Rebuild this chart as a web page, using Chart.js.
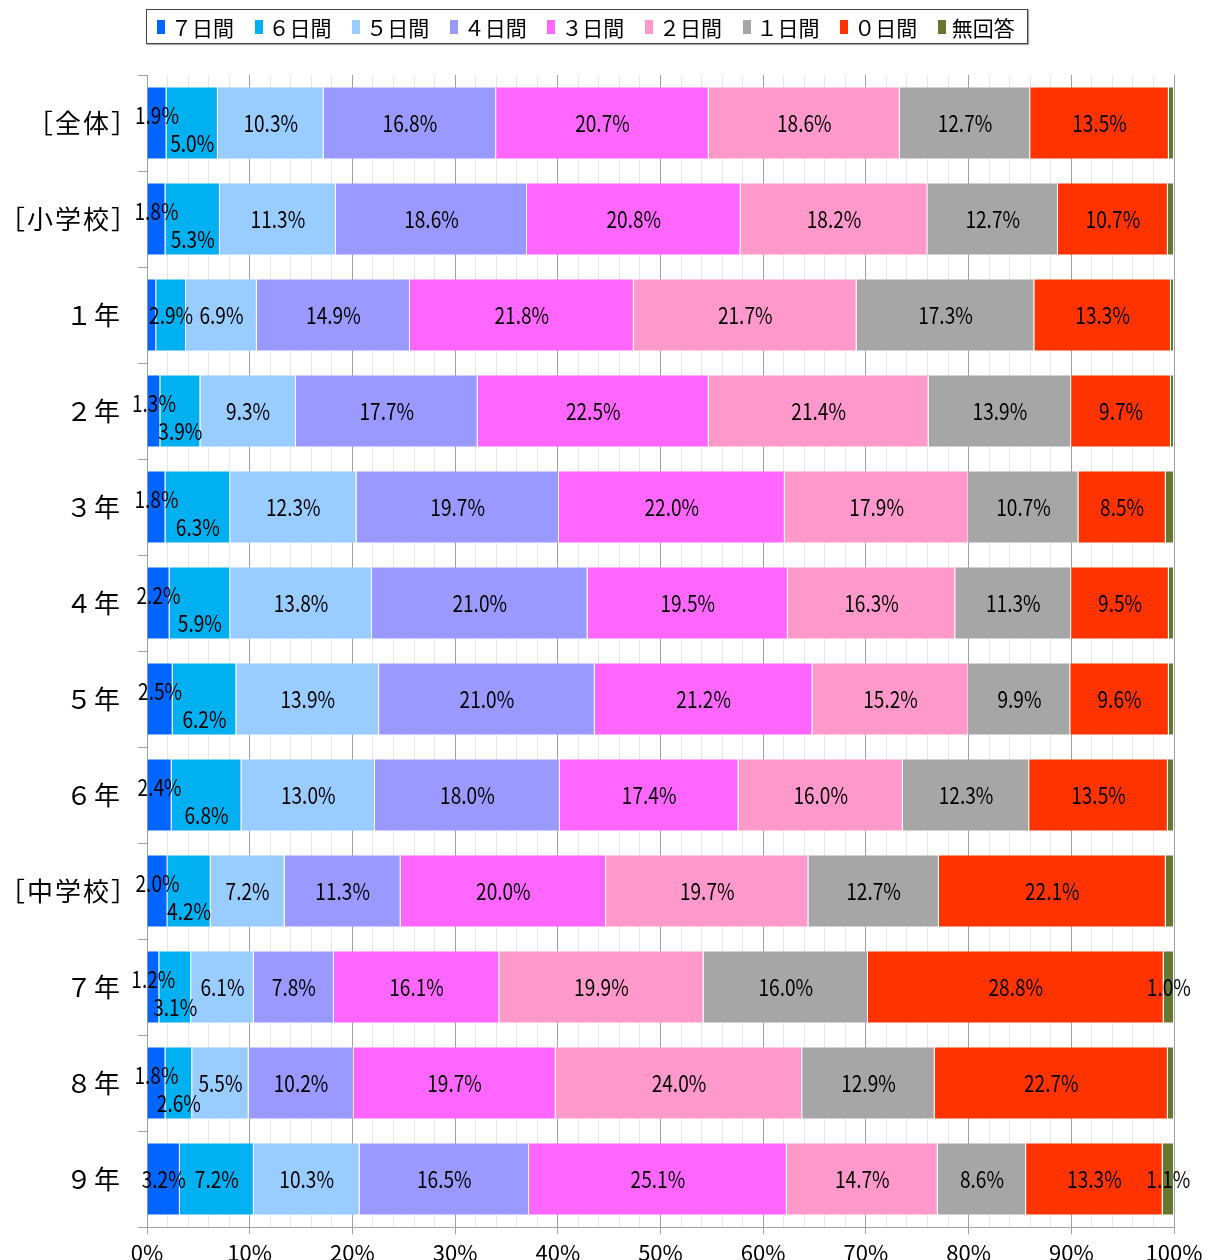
<!DOCTYPE html>
<html lang="ja">
<head>
<meta charset="utf-8">
<title>運動日数</title>
<script src="https://cdn.jsdelivr.net/npm/chart.js@4"></script>
<style>
  body { margin: 0; background: #fff; }
  #wrap { position: relative; width: 1208px; height: 1260px; }
  #legend {
    position: absolute; left: 146px; top: 9px; height: 35px; width: 882px;
    border: 1px solid #444; box-shadow: 1px 1px 1px #aaa;
    display: flex; align-items: center; box-sizing: border-box; padding-left: 10px;
    font-family: 'Noto Sans CJK JP', sans-serif; font-size: 21px; color: #000;
  }
  .item { display: flex; align-items: center; width: 97.6px; flex-shrink: 0; }
  .mark { width: 8px; height: 14px; margin-right: 6px; }
</style>
</head>
<body>
<div id="wrap">
  <div id="legend"></div>
  <canvas id="chart" width="1208" height="1260"></canvas>
</div>
<script>
// categories (rows)
const categories = ['［全体］', '［小学校］', '１年', '２年', '３年', '４年', '５年', '６年', '［中学校］', '７年', '８年', '９年'];

// series names and colours
const seriesNames = ['７日間', '６日間', '５日間', '４日間', '３日間', '２日間', '１日間', '０日間', '無回答'];
const seriesColors = ['#0066FF', '#00B0F0', '#99CCFF', '#9999FF', '#FF66FF', '#FF99CC', '#A6A6A6', '#FF3300', '#667733'];

// values (%) per series, one entry per row
const days7  = [1.9, 1.8, 0.9, 1.3, 1.8, 2.2, 2.5, 2.4, 2.0, 1.2, 1.8, 3.2];
const days6  = [5.0, 5.3, 2.9, 3.9, 6.3, 5.9, 6.2, 6.8, 4.2, 3.1, 2.6, 7.2];
const days5  = [10.3, 11.3, 6.9, 9.3, 12.3, 13.8, 13.9, 13.0, 7.2, 6.1, 5.5, 10.3];
const days4  = [16.8, 18.6, 14.9, 17.7, 19.7, 21.0, 21.0, 18.0, 11.3, 7.8, 10.2, 16.5];
const days3  = [20.7, 20.8, 21.8, 22.5, 22.0, 19.5, 21.2, 17.4, 20.0, 16.1, 19.7, 25.1];
const days2  = [18.6, 18.2, 21.7, 21.4, 17.9, 16.3, 15.2, 16.0, 19.7, 19.9, 24.0, 14.7];
const days1  = [12.7, 12.7, 17.3, 13.9, 10.7, 11.3, 9.9, 12.3, 12.7, 16.0, 12.9, 8.6];
const days0  = [13.5, 10.7, 13.3, 9.7, 8.5, 9.5, 9.6, 13.5, 22.1, 28.8, 22.7, 13.3];
const noAnswer = [0.5, 0.6, 0.3, 0.3, 0.8, 0.5, 0.5, 0.6, 0.8, 1.0, 0.6, 1.1];

// x-axis tick labels (every 10%)
const xTicks = [0, 10, 20, 30, 40, 50, 60, 70, 80, 90, 100];

const seriesValues = [days7, days6, days5, days4, days3, days2, days1, days0, noAnswer];

// HTML legend
const legendEl = document.getElementById('legend');
seriesNames.forEach((name, i) => {
  const item = document.createElement('div');
  item.className = 'item';
  item.innerHTML = `<span class="mark" style="background:${seriesColors[i]}"></span><span>${name}</span>`;
  legendEl.appendChild(item);
});

// Value labels inside the bars
const barLabels = {
  id: 'barLabels',
  afterDatasetsDraw(chart) {
    const ctx = chart.ctx;
    ctx.save();
    ctx.font = '23px "Noto Sans CJK JP", sans-serif';
    ctx.fillStyle = '#000';
    ctx.textAlign = 'center';
    ctx.textBaseline = 'middle';
    chart.data.datasets.forEach((ds, i) => {
      const meta = chart.getDatasetMeta(i);
      meta.data.forEach((bar, j) => {
        const v = ds.data[j];
        if (v < 1) return;
        const first = seriesValues[0][j];
        let dy = 0;
        if (i === 0 && v < 3) dy = -8;
        if (i === 1 && first >= 1 && first < 3 && v < 7) dy = 20;
        const x = (bar.x + bar.base) / 2;
        ctx.save();
        ctx.translate(x, bar.y + dy);
        ctx.scale(0.83, 1);
        ctx.fillText(v.toFixed(1) + '%', 0, 0);
        ctx.restore();
      });
    });
    ctx.restore();
  }
};

// Category labels, ink right-aligned next to the axis ticks
const rowLabels = {
  id: 'rowLabels',
  afterDraw(chart) {
    const ctx = chart.ctx;
    const y = chart.scales.y;
    ctx.save();
    ctx.font = '26px "Noto Sans CJK JP", sans-serif';
    ctx.fillStyle = '#000';
    ctx.textAlign = 'left';
    ctx.textBaseline = 'middle';
    ctx.letterSpacing = '2px';
    categories.forEach((label, i) => {
      const m = ctx.measureText(label);
      const x0 = 119 - m.actualBoundingBoxRight;
      ctx.fillText(label, x0, y.getPixelForValue(i));
    });
    ctx.restore();
  }
};

const ctx = document.getElementById('chart').getContext('2d');
new Chart(ctx, {
  type: 'bar',
  data: {
    labels: categories,
    datasets: seriesNames.map((name, i) => ({
      label: name,
      data: seriesValues[i],
      backgroundColor: seriesColors[i],
      borderColor: 'rgba(255,255,255,0.35)',
      borderWidth: 1,
      barPercentage: 0.76,
      categoryPercentage: 1
    }))
  },
  options: {
    indexAxis: 'y',
    responsive: false,
    animation: false,
    layout: { padding: { top: 75, right: 34, bottom: 0, left: 0 } },
    plugins: {
      legend: { display: false },
      tooltip: { enabled: false }
    },
    scales: {
      x: {
        stacked: true,
        min: 0,
        max: 100,
        afterBuildTicks: (scale) => {
          const t = [];
          for (let v = 0; v <= 100; v += 2) t.push({ value: v });
          scale.ticks = t;
        },
        afterFit: (scale) => {
          scale.height = 33;
          scale.paddingRight = 0;
          scale.paddingLeft = 0;
        },
        ticks: {
          autoSkip: false,
          maxRotation: 0,
          padding: 5,
          color: '#000',
          font: { family: '"Noto Sans CJK JP", sans-serif', size: 22 },
          callback: (v) => xTicks.includes(v) ? v + '%' : ''
        },
        grid: {
          color: (c) => xTicks.includes(c.tick.value) ? '#a0a0a0' : '#e6e6e6',
          tickColor: (c) => xTicks.includes(c.tick.value) ? '#a0a0a0' : 'rgba(0,0,0,0)',
          tickLength: 7,
          lineWidth: 1
        },
        border: { color: '#a0a0a0' }
      },
      y: {
        stacked: true,
        afterFit: (scale) => { scale.width = 147; },
        ticks: { display: false },
        grid: {
          offset: true,
          drawOnChartArea: false,
          tickLength: 9,
          tickColor: '#a0a0a0'
        },
        border: { color: '#a0a0a0' }
      }
    }
  },
  plugins: [barLabels, rowLabels]
});
</script>
</body>
</html>
